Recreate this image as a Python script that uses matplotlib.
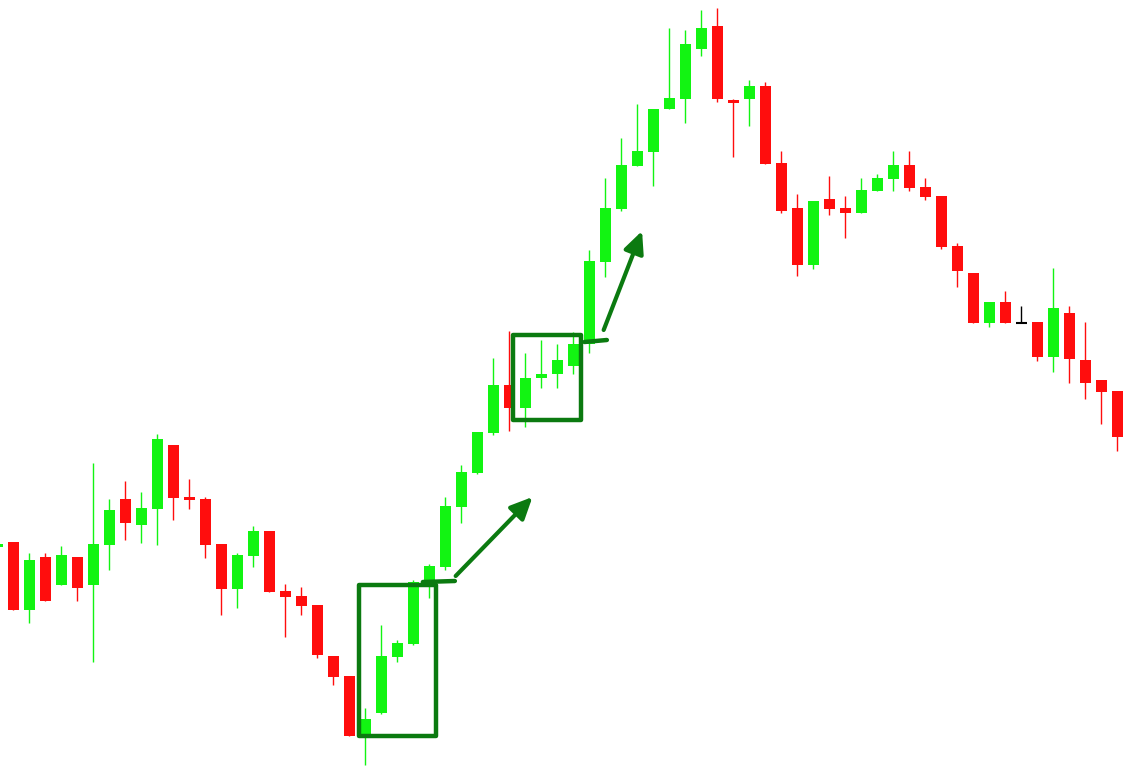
# candlestick chart with two consolidation boxes and breakout arrows

import matplotlib
matplotlib.use('Agg')
import matplotlib.pyplot as plt
from matplotlib.patches import Rectangle, FancyArrowPatch

# --- Data (price units), first candle is partly cut off ---
opens = [220, 225, 157, 210, 182, 210, 182, 222, 268, 242, 258, 322, 270, 268, 223, 178, 211, 236, 176, 171,
         162, 111, 91, 31, 54, 110, 123, 186, 200, 260, 294, 334, 382, 359, 389, 393, 401, 423, 505, 558,
         601, 615, 658, 668, 718, 741, 667, 668, 681, 604, 559, 502, 568, 559, 554, 576, 588, 602, 580, 571,
         521, 494, 444, 465, 444, 445, 410, 454, 407, 387, 376]
highs = [223, 225, 214, 214, 221, 210, 304, 268, 286, 275, 333, 322, 288, 270, 223, 214, 241, 236, 183, 180,
         162, 111, 91, 59, 142, 127, 187, 203, 270, 302, 335, 409, 436, 414, 427, 423, 435, 517, 589, 629,
         663, 658, 739, 737, 757, 759, 668, 687, 685, 616, 573, 566, 591, 571, 589, 593, 616, 616, 589, 571,
         524, 494, 465, 476, 461, 445, 499, 461, 445, 387, 376]
lows = [220, 157, 144, 166, 182, 166, 105, 197, 227, 224, 222, 247, 258, 209, 152, 159, 200, 175, 130, 152,
        109, 82, 31, 2, 53, 105, 122, 169, 197, 244, 293, 332, 336, 340, 379, 379, 393, 414, 490, 556,
        601, 581, 658, 644, 711, 665, 610, 641, 603, 554, 491, 498, 552, 529, 554, 576, 576, 576, 567, 518,
        480, 444, 440, 444, 444, 406, 395, 384, 368, 343, 316]
closes = [223, 157, 207, 166, 212, 179, 223, 257, 244, 259, 328, 269, 267, 222, 178, 212, 236, 175, 170, 161,
          112, 90, 31, 48, 111, 124, 185, 201, 261, 295, 335, 382, 359, 389, 393, 407, 423, 506, 559, 602,
          616, 658, 669, 723, 739, 668, 664, 681, 603, 556, 502, 566, 558, 554, 577, 589, 602, 579, 570, 520,
          496, 444, 465, 444, 444, 410, 459, 408, 384, 375, 330]
first_index = -1

# --- Style ---
up_color = '#12f412'
down_color = '#ff0d0d'
flat_color = '#000000'
body_width = 0.69
annot_color = '#0b7a10'

fig = plt.figure(figsize=(11.23, 7.67), dpi=100)
ax = fig.add_axes([0, 0, 1, 1])
ax.set_xlim(-0.83, 69.36)
ax.set_ylim(0, 767)
ax.axis('off')

for k in range(len(opens)):
    x = first_index + k
    o, h, l, c = opens[k], highs[k], lows[k], closes[k]
    col = up_color if c > o else (down_color if c < o else flat_color)
    # wick
    ax.vlines(x, l, h, color=col, linewidth=1.0, zorder=2)
    lo, hi = min(o, c), max(o, c)
    if col == flat_color:
        ax.hlines(lo, x - body_width / 2, x + body_width / 2, color=col, linewidth=1.5, zorder=3)
    else:
        if hi - lo < 3:
            mid = (hi + lo) / 2
            lo, hi = mid - 1.5, mid + 1.5
        ax.add_patch(Rectangle((x - body_width / 2, lo), body_width, hi - lo, color=col, zorder=3, linewidth=0))

# --- Consolidation boxes ---
ax.add_patch(Rectangle((21.6, 31), 4.8, 151, fill=False, edgecolor=annot_color, linewidth=3.2,
                       joinstyle='round', zorder=4))
ax.add_patch(Rectangle((31.25, 347), 4.25, 85, fill=False, edgecolor=annot_color, linewidth=3.2,
                       joinstyle='round', zorder=4))

# --- Breakout lines and arrows ---
ax.plot([25.6, 27.6], [185, 186], color=annot_color, linewidth=3.2, solid_capstyle='round', zorder=4)
ax.plot([35.7, 37.1], [425, 427], color=annot_color, linewidth=3.2, solid_capstyle='round', zorder=4)

for (x0, y0, x1, y1) in [(27.65, 191, 32.45, 270), (36.9, 437, 39.3, 536)]:
    arr = FancyArrowPatch((x0, y0), (x1, y1), arrowstyle='-|>,head_length=6,head_width=2.8',
                          color=annot_color, linewidth=3.0, mutation_scale=2.2, shrinkA=0, shrinkB=0, zorder=4)
    ax.add_patch(arr)

plt.savefig('out.png', dpi=100)
